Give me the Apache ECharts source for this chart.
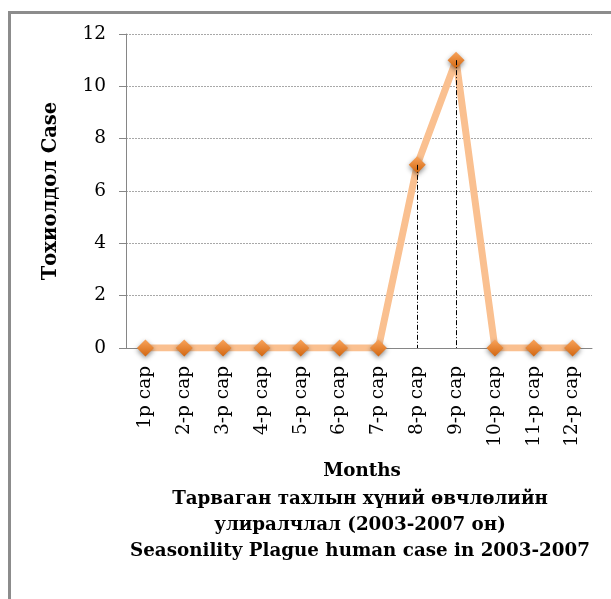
<!DOCTYPE html>
<html>
<head>
<meta charset="utf-8">
<script src="https://cdn.jsdelivr.net/npm/echarts@6/dist/echarts.min.js"></script>
<style>html,body{margin:0;padding:0;background:#fff;}#c{width:611px;height:599px;}</style>
</head>
<body>
<div id="c"></div>
<script>
var categories = ['1р сар','2-р сар','3-р сар','4-р сар','5-р сар','6-р сар','7-р сар','8-р сар','9-р сар','10-р сар','11-р сар','12-р сар'];
var cases = [0,0,0,0,0,0,0,7,11,0,0,0];
var yTicks = {min:0, max:12, interval:2};
var yName = 'Тохиолдол Case';
var xName = 'Months';
var titleLines = ['Тарваган тахлын хүний өвчлөлийн','улиралчлал (2003-2007 он)','Seasonility Plague human case in 2003-2007'];

var serif = 'DejaVu Serif';
var dropLines = [];
cases.forEach(function(v,i){
  if (v > 0) dropLines.push([{coord:[i, v]}, {coord:[i, 0]}]);
});

var chart = echarts.init(document.getElementById('c'));
chart.setOption({
  animation:false,
  backgroundColor:'#fff',
  graphic:[{type:'rect', left:7, top:10, shape:{width:700,height:700}, style:{fill:'none', stroke:'#8c8c8c', lineWidth:3}}],
  title:{
    text: titleLines.join('\n'),
    left: 355, top: 481, textAlign:'center',
    textStyle:{fontFamily:serif, fontWeight:'bold', fontSize:18.3, lineHeight:26.3, color:'#000'}
  },
  grid:{left:126, right:19, top:34, bottom:251, containLabel:false},
  xAxis:{
    type:'category', data:categories, boundaryGap:true,
    name:xName, nameLocation:'middle', nameGap:114,
    nameTextStyle:{fontFamily:serif, fontWeight:'bold', fontSize:18.3, color:'#000', padding:[0,0,0,6]},
    axisLine:{lineStyle:{color:'#868686', width:1}},
    axisTick:{show:false},
    axisLabel:{rotate:90, fontFamily:serif, fontSize:18.5, color:'#000', margin:18}
  },
  yAxis:{
    type:'value', min:yTicks.min, max:yTicks.max, interval:yTicks.interval,
    name:yName, nameLocation:'middle', nameGap:65, nameRotate:90,
    nameTextStyle:{fontFamily:serif, fontWeight:'bold', fontSize:19.5, color:'#000'},
    axisLine:{show:true, lineStyle:{color:'#868686', width:1}},
    axisTick:{show:true, length:7, lineStyle:{color:'#868686'}},
    axisLabel:{fontFamily:serif, fontSize:18.5, color:'#000', margin:20},
    splitLine:{show:true, lineStyle:{color:'#a8a8a8', type:[2,1], width:1}}
  },
  series:[{
    type:'line', data:cases,
    lineStyle:{color:'#FAC090', width:7},
    symbol:'diamond', symbolSize:17,
    itemStyle:{
      color:new echarts.graphic.LinearGradient(0,0,0,1,[{offset:0,color:'#F9A45C'},{offset:1,color:'#D2660F'}]),
      shadowBlur:5, shadowColor:'rgba(0,0,0,0.45)', shadowOffsetY:2
    },
    markLine:{
      silent:true, symbol:['none','none'], label:{show:false},
      lineStyle:{color:'#000', width:1, type:[5,2,1,2]},
      data:dropLines
    },
    z:3
  }]
});
</script>
</body>
</html>
